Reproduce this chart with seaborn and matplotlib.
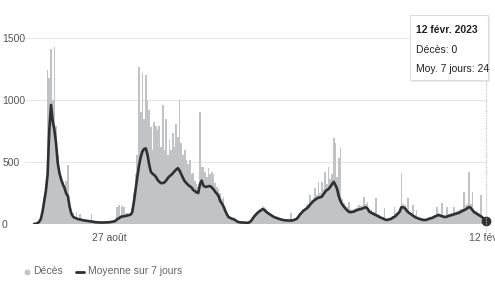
import matplotlib
matplotlib.use("Agg")
import numpy as np
import pandas as pd
import matplotlib.pyplot as plt
import matplotlib.dates as mdates
from matplotlib.patches import FancyBboxPatch
from matplotlib.lines import Line2D
import seaborn as sns

# ---- data ----
deces = [
    0, 3, 8, 22, 50, 120, 210, 320, 1240, 1180,
    1410, 1000, 1427, 790, 560, 450, 390, 340, 300, 350,
    475, 160, 95, 90, 55, 100, 45, 80, 38, 35,
    32, 30, 28, 25, 80, 20, 17, 15, 14, 13,
    13, 13, 14, 14, 15, 16, 19, 22, 28, 140,
    150, 70, 145, 140, 80, 90, 80, 85, 130, 250,
    400, 560, 1265, 900, 1215, 850, 1200, 1000, 920, 780,
    600, 820, 790, 760, 790, 620, 960, 600, 850, 560,
    675, 600, 730, 620, 810, 700, 1000, 650, 560, 600,
    520, 480, 515, 400, 410, 350, 320, 300, 900, 460,
    460, 420, 380, 450, 400, 420, 400, 330, 300, 280,
    250, 200, 218, 130, 90, 65, 55, 50, 42, 35,
    25, 18, 15, 14, 13, 12, 12, 15, 28, 50,
    70, 85, 100, 115, 125, 145, 135, 120, 105, 90,
    80, 70, 62, 55, 50, 45, 40, 37, 34, 32,
    30, 32, 90, 34, 40, 48, 65, 85, 100, 120,
    130, 150, 160, 234, 190, 210, 290, 230, 340, 250,
    340, 280, 420, 320, 460, 360, 400, 690, 650, 380,
    530, 610, 200, 170, 150, 140, 180, 120, 115, 125,
    130, 140, 150, 145, 150, 218, 160, 180, 120, 110,
    100, 95, 210, 80, 70, 60, 55, 130, 40, 40,
    45, 50, 62, 137, 85, 100, 115, 410, 160, 150,
    130, 210, 100, 90, 150, 70, 113, 55, 48, 44,
    40, 38, 42, 48, 55, 60, 68, 75, 140, 85,
    80, 170, 70, 68, 140, 78, 85, 88, 140, 98,
    105, 110, 118, 125, 260, 150, 160, 420, 160, 260,
    115, 105, 95, 85, 234, 65, 45, 0,
]
moyenne = [
    0, 2, 6, 18, 40, 100, 185, 270, 400, 760,
    960, 830, 760, 650, 490, 410, 360, 320, 290, 245,
    225, 140, 85, 60, 50, 45, 40, 36, 34, 30,
    28, 26, 24, 22, 20, 18, 15, 14, 13, 12,
    12, 12, 13, 13, 14, 15, 18, 20, 25, 38,
    45, 55, 60, 62, 65, 68, 72, 75, 95, 180,
    280, 380, 470, 540, 585, 605, 610, 560, 480, 420,
    405, 395, 380, 355, 340, 330, 330, 335, 350, 370,
    385, 395, 410, 425, 440, 450, 430, 400, 370, 345,
    330, 315, 305, 295, 275, 265, 255, 250, 320, 350,
    310, 300, 300, 305, 305, 295, 280, 260, 245, 225,
    185, 165, 140, 105, 75, 55, 48, 42, 38, 30,
    20, 15, 13, 12, 12, 10, 10, 12, 22, 40,
    60, 75, 90, 100, 110, 120, 115, 100, 90, 80,
    72, 62, 55, 50, 45, 40, 36, 33, 30, 29,
    28, 28, 28, 30, 35, 40, 55, 75, 90, 105,
    115, 125, 137, 155, 170, 185, 195, 205, 212, 215,
    220, 240, 260, 275, 282, 300, 320, 340, 315, 285,
    225, 185, 160, 140, 125, 110, 98, 95, 98, 100,
    108, 113, 118, 120, 125, 130, 135, 125, 100, 92,
    85, 78, 72, 65, 58, 50, 45, 38, 33, 34,
    38, 42, 52, 58, 70, 85, 100, 135, 135, 128,
    110, 95, 85, 75, 65, 56, 50, 45, 40, 36,
    33, 32, 35, 40, 45, 48, 55, 62, 68, 72,
    68, 62, 58, 56, 60, 65, 70, 72, 78, 82,
    86, 90, 98, 105, 112, 118, 128, 137, 130, 112,
    95, 88, 78, 70, 62, 52, 38, 24,
]
end_date = "2023-02-12"
tick_dates = ["2020-08-27", "2023-02-12"]
tick_labels = ["27 août", "12 févr."]
y_ticks = [0, 500, 1000, 1500]
y_tick_labels = ["0", "500", "1000", "1500"]
tooltip_lines = ["12 févr. 2023", "Décès: 0", "Moy. 7 jours: 24"]
legend_labels = ["Décès", "Moyenne sur 7 jours"]

# ---- style ----
sns.set_style("white")
plt.rcParams["font.family"] = ["Liberation Sans", "DejaVu Sans"]
FS = 7.5

BAR_C = "#c1c3c6"
LINE_C = "#2e3032"
TXT_C = "#555555"

dates = pd.date_range(end=pd.Timestamp(end_date), periods=len(deces), freq="97h")
df = pd.DataFrame({"x": mdates.date2num(dates), "deces": deces, "moyenne": moyenne})

W, H = 495, 283
fig = plt.figure(figsize=(W / 100, H / 100), dpi=100)
L, R, T, B = 25, 487, 38, 224
ax = fig.add_axes([L / W, (H - B) / H, (R - L) / W, (B - T) / H])

sns.barplot(data=df, x="x", y="deces", native_scale=True, width=1.0,
            color=BAR_C, linewidth=0, errorbar=None, ax=ax, zorder=2)
sns.lineplot(data=df, x="x", y="moyenne", color=LINE_C, linewidth=1.9,
             ax=ax, zorder=4)
ax.plot([df["x"].iloc[-1]], [df["moyenne"].iloc[-1]], "o", color=LINE_C,
        markersize=6, clip_on=False, zorder=5)

# x scale mapping from tick pixel positions
t0 = mdates.date2num(pd.Timestamp(tick_dates[0]))
t1 = mdates.date2num(pd.Timestamp(tick_dates[1]))
px0, px1 = 109.5, 486.0
ppd = (px1 - px0) / (t1 - t0)
ax.set_xlim(t0 + (L - px0) / ppd, t0 + (R - px0) / ppd)
ax.set_ylim(0, 1500)

ax.set_xticks([t0, t1])
ax.set_xticklabels(tick_labels, color=TXT_C, fontsize=FS)
ax.set_yticks(y_ticks)
ax.set_yticklabels(y_tick_labels, color=TXT_C, fontsize=FS, ha="left")
ax.tick_params(axis="y", length=0, pad=16.5)
ax.tick_params(axis="x", length=4, color="#cccccc", width=0.8, pad=2.5)
ax.set_xlabel("")
ax.set_ylabel("")
ax.grid(axis="y", color="#e6e6e6", linewidth=0.8, zorder=0)
ax.set_axisbelow(True)
for s in ax.spines.values():
    s.set_visible(False)

# crosshair (dotted)
fig.add_artist(Line2D([px1 / W, px1 / W], [(H - 15) / H, (H - 232) / H],
                      color="#bdbdbd", linewidth=0.8, linestyle=(0, (1, 1.2)),
                      transform=fig.transFigure, zorder=1))

# tooltip box
bx0, by0, bx1, by1 = 410, 15, 488, 80
shadow = FancyBboxPatch(((bx0 + 1.5) / W, (H - by1 - 1.5) / H), (bx1 - bx0) / W,
                        (by1 - by0) / H, boxstyle="square,pad=0",
                        transform=fig.transFigure, facecolor="#000000",
                        alpha=0.08, edgecolor="none", zorder=9)
box = FancyBboxPatch((bx0 / W, (H - by1) / H), (bx1 - bx0) / W, (by1 - by0) / H,
                     boxstyle="square,pad=0", transform=fig.transFigure,
                     facecolor="white", edgecolor="#dddddd", linewidth=0.8,
                     zorder=10)
fig.add_artist(shadow)
fig.add_artist(box)
for i, (txt, yy) in enumerate(zip(tooltip_lines, [30, 50, 69])):
    fig.text(416 / W, (H - yy) / H, txt, fontsize=FS, color="#222222",
             fontweight="bold" if i == 0 else "normal", va="center", ha="left",
             zorder=11)

# legend
ly = (H - 271.5) / H
fig.add_artist(Line2D([27 / W], [ly], marker="o", markersize=3.2, color=BAR_C,
                      linestyle="none", transform=fig.transFigure))
fig.text(33 / W, ly, legend_labels[0], fontsize=FS, color="#666666",
         va="center", ha="left")
fig.add_artist(Line2D([76 / W, 84 / W], [ly, ly], color=LINE_C,
                      linewidth=2, transform=fig.transFigure))
fig.text(88 / W, ly, legend_labels[1], fontsize=FS, color="#666666",
         va="center", ha="left")

fig.savefig("out.png", dpi=100)
